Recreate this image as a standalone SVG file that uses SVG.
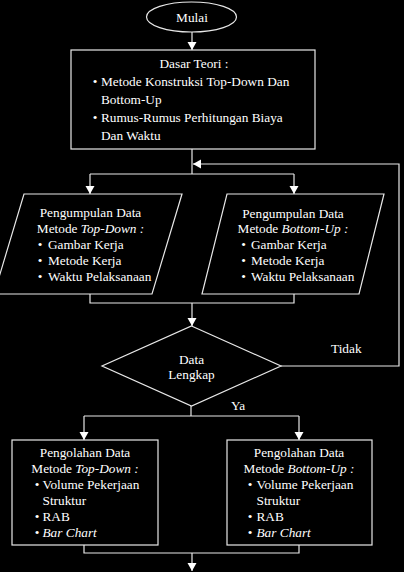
<svg xmlns="http://www.w3.org/2000/svg" width="404" height="572" viewBox="0 0 404 572">
<style>
text{font-family:"Liberation Serif","Times New Roman",serif;font-size:13.3px;fill:#fff}
.c{text-anchor:middle}
.i{font-style:italic}
.shape{fill:#000;stroke:#e8e8e8;stroke-width:1.2}
.ln{fill:none;stroke:#e8e8e8;stroke-width:1.2}
</style>
<defs>
<marker id="ah" markerUnits="userSpaceOnUse" markerWidth="10" markerHeight="10" refX="8" refY="5" orient="auto">
<path d="M0,0.5 L8,5 L0,9.5 z" fill="#fff"/>
</marker>
</defs>
<rect width="404" height="572" fill="#000"/>
<g id="connectors">
<path class="ln" d="M192,32 V50" marker-end="url(#ah)"/>
<path class="ln" d="M192,149 V174"/>
<path class="ln" d="M90,174 H294"/>
<path class="ln" d="M90,174 V194" marker-end="url(#ah)"/>
<path class="ln" d="M294,174 V194" marker-end="url(#ah)"/>
<path class="ln" d="M281,366 H399 V164 H193" marker-end="url(#ah)"/>
<path class="ln" d="M90,294 V303 H294 V294"/>
<path class="ln" d="M192,303 V326" marker-end="url(#ah)"/>
<path class="ln" d="M191,406 V416"/>
<path class="ln" d="M84,416 H299"/>
<path class="ln" d="M84,416 V440" marker-end="url(#ah)"/>
<path class="ln" d="M299,416 V440" marker-end="url(#ah)"/>
<path class="ln" d="M84,545 V553 H299 V545"/>
<path class="ln" d="M192,553 V571" marker-end="url(#ah)"/>
<text x="331" y="353">Tidak</text>
<text x="231" y="410">Ya</text>
</g>
<g id="mulai">
<ellipse class="shape" cx="191.5" cy="17" rx="45" ry="15"/>
<text class="c" x="192" y="21.5">Mulai</text>
</g>
<g id="dasar-teori">
<rect class="shape" x="71" y="50" width="244" height="99"/>
<text class="c" x="194" y="68">Dasar Teori :</text>
<text class="c" x="95" y="86">•</text>
<text x="101" y="86">Metode Konstruksi Top-Down Dan</text>
<text x="101" y="104">Bottom-Up</text>
<text class="c" x="95" y="122">•</text>
<text x="101" y="122">Rumus-Rumus Perhitungan Biaya</text>
<text x="101" y="139.5">Dan Waktu</text>
</g>
<g id="pengumpulan-topdown">
<polygon class="shape" points="24,194 182,194 152,294 -6,294"/>
<text class="c" x="90.5" y="217">Pengumpulan Data</text>
<text class="c" x="90.5" y="233">Metode <tspan class="i">Top-Down :</tspan></text>
<text class="c" x="40" y="249">•</text>
<text x="48" y="249">Gambar Kerja</text>
<text class="c" x="40" y="265">•</text>
<text x="48" y="265">Metode Kerja</text>
<text class="c" x="40" y="281">•</text>
<text x="48" y="281">Waktu Pelaksanaan</text>
</g>
<g id="pengumpulan-bottomup">
<polygon class="shape" points="227,194 384,194 359,294 202,294"/>
<text class="c" x="293" y="217.5">Pengumpulan Data</text>
<text class="c" x="293" y="233">Metode <tspan class="i">Bottom-Up :</tspan></text>
<text class="c" x="243.5" y="249">•</text>
<text x="251" y="249">Gambar Kerja</text>
<text class="c" x="243.5" y="265">•</text>
<text x="251" y="265">Metode Kerja</text>
<text class="c" x="243.5" y="281">•</text>
<text x="251" y="281">Waktu Pelaksanaan</text>
</g>
<g id="data-lengkap">
<polygon class="shape" points="191.5,326 281,366 191.5,406 102,366"/>
<text class="c" x="191.5" y="364">Data</text>
<text class="c" x="191.5" y="379">Lengkap</text>
</g>
<g id="pengolahan-topdown">
<rect class="shape" x="12" y="440" width="146" height="105"/>
<text class="c" x="85" y="457">Pengolahan Data</text>
<text class="c" x="85" y="473">Metode <tspan class="i">Top-Down :</tspan></text>
<text class="c" x="37" y="489">•</text>
<text x="42.5" y="489">Volume Pekerjaan</text>
<text x="42.5" y="505">Struktur</text>
<text class="c" x="37" y="521">•</text>
<text x="42.5" y="521">RAB</text>
<text class="c" x="37" y="537">•</text>
<text class="i" x="42.5" y="537">Bar Chart</text>
</g>
<g id="pengolahan-bottomup">
<rect class="shape" x="227" y="440" width="145" height="105"/>
<text class="c" x="299" y="457">Pengolahan Data</text>
<text class="c" x="299" y="473">Metode <tspan class="i">Bottom-Up :</tspan></text>
<text class="c" x="250" y="489">•</text>
<text x="256.5" y="489">Volume Pekerjaan</text>
<text x="256.5" y="505">Struktur</text>
<text class="c" x="250" y="521">•</text>
<text x="256.5" y="521">RAB</text>
<text class="c" x="250" y="537">•</text>
<text class="i" x="256.5" y="537">Bar Chart</text>
</g>
</svg>
